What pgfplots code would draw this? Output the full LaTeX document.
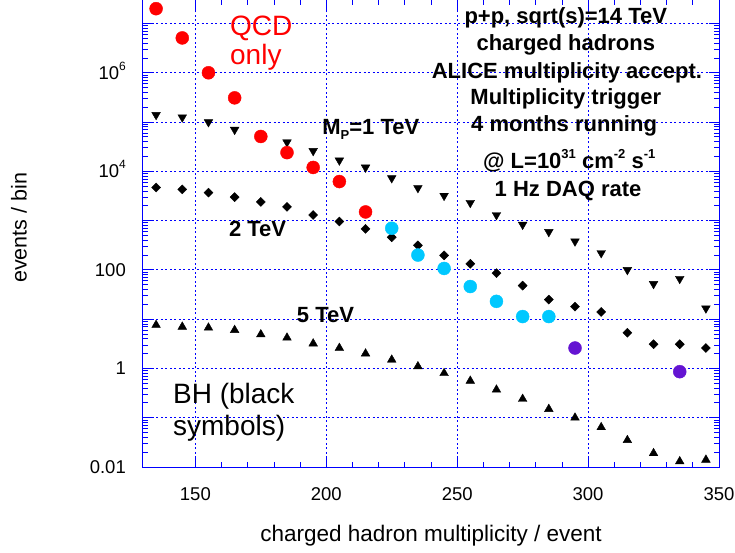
\documentclass[border=0pt]{standalone}
\usepackage{fontspec}
\setmainfont{Liberation Sans}
\usepackage{pgfplots}
\pgfplotsset{compat=1.18}

\definecolor{qcdred}{RGB}{255,0,0}
\definecolor{qcdcyan}{RGB}{0,200,255}
\definecolor{qcdpurple}{RGB}{100,20,210}
\definecolor{frameblue}{RGB}{0,0,255}

\newcommand\pw[1]{10\raisebox{9pt}{\fontsize{12}{12}\selectfont #1}}
\newcommand\supb[1]{\raisebox{10pt}{\fontsize{13}{13}\selectfont\bfseries #1}}

\begin{document}
\begin{tikzpicture}[x=1pt,y=1pt]
\useasboundingbox (-143,-85) rectangle (592,467);
\begin{axis}[
  at={(0,0)}, anchor=south west,
  scale only axis, width=576pt, height=467pt,
  xmin=130, xmax=350,
  ymode=log, ymin=0.01, ymax=3e7,
  xtick={150,200,250,300,350},
  minor x tick num=4,
  ytick={0.01,0.1,1,10,100,1000,1e4,1e5,1e6,1e7},
  yticklabels={0.01,{},1,{},100,{},\pw{4},{},\pw{6},{}},
  /pgf/number format/assume math mode=true,
  /pgf/number format/1000 sep={},
  tick align=inside,
  major tick length=10pt, minor tick length=5pt,
  axis line style={frameblue, line width=1pt},
  every tick/.style={frameblue, line width=0.8pt},
  grid=major,
  major grid style={frameblue, line width=0.8pt, dash pattern=on 2pt off 2.5pt},
  tick label style={font=\fontsize{18.5}{20}\selectfont, text=black},
  xticklabel style={anchor=base, yshift=-33.7pt, inner sep=0pt},
  yticklabel style={anchor=base east, xshift=-17pt, yshift=-6.5pt, inner sep=0pt},
  xlabel={charged hadron multiplicity / event},
  ylabel={events / bin},
  xlabel style={at={(rel axis cs:0.5,-0.160)}, anchor=base, inner sep=0pt, font=\fontsize{22.5}{24}\selectfont},
  ylabel style={at={(rel axis cs:-0.202,0.512)}, anchor=base, inner sep=0pt, font=\fontsize{21.5}{24}\selectfont},
  clip=false,
]
% M_P = 1 TeV (triangles down)
\addplot[only marks, mark=triangle*, mark size=5pt, mark options={rotate=180, fill=black, draw=black}] coordinates {
 (135,1.4e5) (145,1.25e5) (155,1.0e5) (165,7.0e4) (175,5.4e4) (185,3.9e4)
 (195,2.6e4) (205,1.67e4) (215,1.2e4) (225,7.3e3) (235,4.6e3) (245,3.2e3)
 (255,2.3e3) (265,1.3e3) (275,830) (285,590) (295,380) (305,220)
 (315,100) (325,52) (335,66) (345,16.6)
};
% 2 TeV (diamonds)
\addplot[only marks, mark=square*, mark size=3.2pt, mark options={rotate=45, fill=black, draw=black}] coordinates {
 (135,4.7e3) (145,4.3e3) (155,3.7e3) (165,3.0e3) (175,2.4e3) (185,1.9e3)
 (195,1.3e3) (205,960) (215,680) (225,460) (235,315) (245,197)
 (255,133) (265,86) (275,48) (285,25) (295,18) (305,14)
 (315,5.3) (325,3.1) (335,3.1) (345,2.6)
};
% 5 TeV (triangles up)
\addplot[only marks, mark=triangle*, mark size=5pt, mark options={fill=black, draw=black}] coordinates {
 (135,7.6) (145,7.0) (155,6.7) (165,6.0) (175,4.9) (185,4.2)
 (195,3.2) (205,2.6) (215,2.0) (225,1.5) (235,1.1) (245,0.8)
 (255,0.56) (265,0.37) (275,0.24) (285,0.15) (295,0.10) (305,0.064)
 (315,0.035) (325,0.019) (335,0.013) (345,0.014)
};
% QCD only
\addplot[only marks, mark=*, mark size=6.5pt, qcdred, mark options={draw=qcdred, fill=qcdred}] coordinates {
 (135,2.0e7) (145,5.1e6) (155,1.0e6) (165,3.1e5) (175,5.1e4) (185,2.4e4)
 (195,1.2e4) (205,6.2e3) (215,1.5e3)
};
\addplot[only marks, mark=*, mark size=6.5pt, qcdcyan, mark options={draw=qcdcyan, fill=qcdcyan}] coordinates {
 (225,700) (235,200) (245,107) (255,46) (265,23) (275,11.3) (285,11.3)
};
\addplot[only marks, mark=*, mark size=6.5pt, qcdpurple, mark options={draw=qcdpurple, fill=qcdpurple}] coordinates {
 (295,2.6) (335,0.86)
};

\begin{scope}[every node/.style={inner sep=0pt, font=\fontsize{22}{24}\selectfont\bfseries}]
\node[anchor=base] at (rel axis cs:0.734,0.949) {p+p, sqrt(s)=14 TeV};
\node[anchor=base] at (rel axis cs:0.734,0.891) {charged hadrons};
\node[anchor=base] at (rel axis cs:0.736,0.831) {ALICE multiplicity accept.};
\node[anchor=base] at (rel axis cs:0.734,0.777) {Multiplicity trigger};
\node[anchor=base] at (rel axis cs:0.731,0.718) {4 months running};
\node[anchor=base] at (rel axis cs:0.740,0.640) {@ L=10\supb{31} cm\supb{-2} s\supb{-1}};
\node[anchor=base] at (rel axis cs:0.738,0.580) {1 Hz DAQ rate};
\node[anchor=base west] at (rel axis cs:0.311,0.711) {M\raisebox{-5pt}{\fontsize{13}{13}\selectfont\bfseries P}=1 TeV};
\node[anchor=base west] at (rel axis cs:0.149,0.493) {2 TeV};
\node[anchor=base west] at (rel axis cs:0.267,0.309) {5 TeV};
\end{scope}
\begin{scope}[every node/.style={inner sep=0pt, font=\fontsize{28}{30}\selectfont}]
\node[anchor=base west, text=qcdred] at (rel axis cs:0.151,0.925) {QCD};
\node[anchor=base west, text=qcdred] at (rel axis cs:0.151,0.861) {only};
\node[anchor=base west] at (rel axis cs:0.052,0.135) {BH (black};
\node[anchor=base west] at (rel axis cs:0.052,0.067) {symbols)};
\end{scope}
\end{axis}
\end{tikzpicture}
\end{document}
